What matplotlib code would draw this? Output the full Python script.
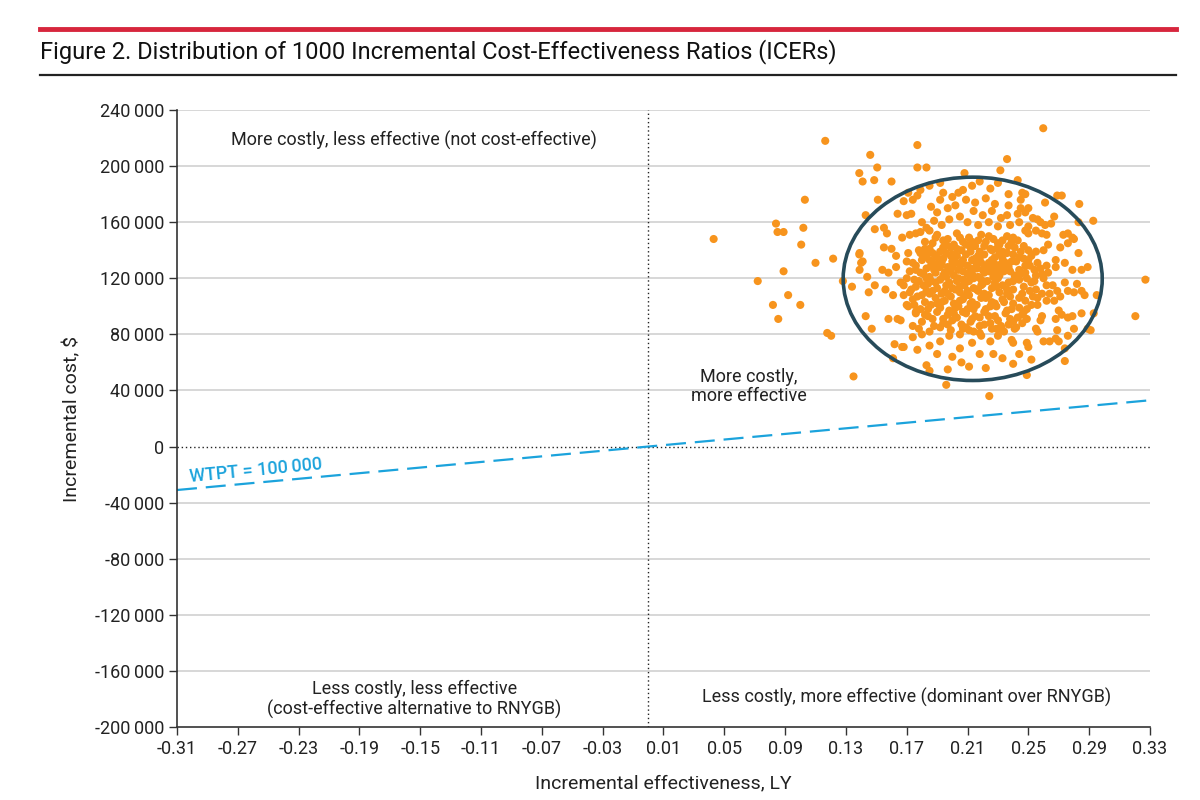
import matplotlib
matplotlib.use("Agg")
import matplotlib.pyplot as plt
from matplotlib.patches import Ellipse
from matplotlib.lines import Line2D

plt.rcParams['font.family'] = ['Roboto', 'DejaVu Sans']

# ---- data (effectiveness in LY, cost in thousands of $) ----
outer_pts = [
    (0.043, 148), (0.072, 118), (0.082, 101), (0.084, 159), (0.085, 153), (0.089, 153),
    (0.0855, 91), (0.089, 125), (0.092, 108), (0.100, 101), (0.1006, 144), (0.102, 156),
    (0.103, 176), (0.110, 131), (0.1164, 218), (0.1177, 81), (0.1203, 79), (0.1216, 134),
    (0.135, 50), (0.1388, 195), (0.1388, 137), (0.141, 189), (0.143, 165), (0.146, 208),
    (0.1486, 190), (0.149, 155), (0.1506, 199), (0.151, 176), (0.155, 156), (0.157, 152),
    (0.160, 189), (0.177, 215), (0.177, 199), (0.183, 199), (0.208, 195), (0.2316, 197),
    (0.236, 205), (0.2598, 227), (0.269, 179), (0.272, 179), (0.2835, 173), (0.283, 160),
    (0.2927, 161), (0.295, 108), (0.291, 83), (0.3204, 93), (0.327, 119), (0.274, 61),
    (0.249, 51), (0.2243, 36), (0.196, 44), (0.143, 93), (0.147, 84), (0.161, 63),
    (0.168, 71), (0.162, 73), (0.128, 118), (0.134, 114), (0.140, 131), (0.145, 110),
]

upper_pts = [
    (0.168, 175), (0.174, 176), (0.171, 181), (0.177, 179), (0.179, 183), (0.185, 186),
    (0.192, 188), (0.194, 181), (0.192, 176), (0.200, 178), (0.204, 181), (0.207, 183),
    (0.213, 186), (0.218, 189), (0.225, 184), (0.230, 188), (0.237, 180), (0.243, 190),
    (0.245, 176), (0.246, 181), (0.248, 180), (0.261, 174), (0.237, 172), (0.245, 170),
    (0.250, 170), (0.236, 165), (0.243, 166), (0.248, 167), (0.253, 163), (0.256, 162),
    (0.258, 160), (0.261, 158), (0.265, 159), (0.267, 164), (0.164, 166), (0.170, 165),
    (0.173, 166), (0.180, 160), (0.183, 156), (0.186, 171), (0.190, 167), (0.197, 170),
    (0.202, 172), (0.209, 176), (0.215, 174), (0.222, 177), (0.228, 173), (0.214, 168),
    (0.220, 165), (0.226, 168), (0.232, 163), (0.198, 162), (0.205, 164), (0.210, 160),
    (0.193, 158), (0.188, 161), (0.217, 158), (0.224, 160), (0.230, 157), (0.238, 158),
    (0.244, 160), (0.250, 157), (0.248, 154), (0.250, 152), (0.255, 154), (0.259, 152),
    (0.262, 151), (0.273, 151), (0.276, 152), (0.279, 149), (0.271, 142), (0.276, 145),
    (0.280, 148), (0.283, 138), (0.263, 144), (0.260, 140), (0.255, 139), (0.268, 133),
    (0.274, 131), (0.279, 126), (0.285, 126), (0.289, 128), (0.268, 128), (0.167, 149),
    (0.172, 151), (0.176, 152), (0.179, 153), (0.185, 154), (0.155, 142), (0.160, 141),
    (0.163, 136), (0.171, 138), (0.179, 138), (0.182, 141), (0.139, 138), (0.141, 132),
    (0.139, 126), (0.144, 121), (0.154, 126), (0.158, 124), (0.163, 128), (0.170, 132),
    (0.176, 126), (0.149, 115), (0.156, 112), (0.161, 108), (0.166, 117),
]

core_pts = [
    (0.190, 151), (0.197, 148), (0.203, 152), (0.211, 149), (0.219, 151), (0.227, 148),
    (0.236, 150), (0.243, 147),
    (0.187, 145), (0.194, 147), (0.201, 144), (0.207, 146), (0.215, 143), (0.222, 146),
    (0.231, 144), (0.239, 146), (0.247, 143),
    (0.185, 141), (0.192, 139), (0.199, 142), (0.206, 140), (0.212, 142), (0.218, 139),
    (0.225, 141), (0.233, 139), (0.241, 142), (0.250, 140),
    (0.183, 137), (0.190, 135), (0.196, 138), (0.203, 136), (0.209, 137), (0.215, 134),
    (0.221, 137), (0.228, 135), (0.236, 138), (0.244, 135), (0.252, 136),
    (0.180, 133), (0.187, 131), (0.194, 134), (0.200, 132), (0.206, 130), (0.213, 133),
    (0.219, 131), (0.226, 133), (0.232, 130), (0.239, 132), (0.247, 134), (0.256, 131),
    (0.262, 129),
    (0.176, 129), (0.183, 127), (0.190, 130), (0.197, 128), (0.204, 126), (0.210, 129),
    (0.216, 127), (0.223, 129), (0.230, 126), (0.237, 128), (0.244, 126), (0.251, 129),
    (0.258, 127),
    (0.172, 125), (0.181, 123), (0.188, 126), (0.195, 124), (0.201, 122), (0.207, 125),
    (0.213, 123), (0.220, 126), (0.227, 123), (0.234, 125), (0.241, 122), (0.248, 124),
    (0.255, 122), (0.263, 124),
    (0.170, 120), (0.178, 118), (0.185, 121), (0.192, 119), (0.198, 117), (0.204, 120),
    (0.211, 118), (0.217, 121), (0.223, 118), (0.230, 120), (0.237, 117), (0.244, 119),
    (0.252, 117), (0.260, 120),
    (0.168, 115), (0.176, 114), (0.184, 116), (0.190, 113), (0.196, 115), (0.202, 112),
    (0.208, 115), (0.214, 113), (0.220, 116), (0.226, 113), (0.233, 115), (0.240, 112),
    (0.247, 114), (0.255, 112), (0.262, 115),
    (0.172, 110), (0.180, 108), (0.187, 111), (0.193, 109), (0.199, 107), (0.205, 110),
    (0.211, 108), (0.217, 111), (0.224, 108), (0.231, 110), (0.238, 107), (0.246, 109),
    (0.253, 107),
    (0.174, 105), (0.182, 103), (0.189, 106), (0.195, 104), (0.201, 102), (0.207, 105),
    (0.213, 103), (0.219, 106), (0.226, 103), (0.233, 105), (0.240, 102), (0.248, 104),
    (0.256, 106),
    (0.171, 100), (0.179, 98), (0.186, 101), (0.192, 99), (0.198, 97), (0.204, 100),
    (0.210, 98), (0.216, 101), (0.222, 98), (0.229, 100), (0.236, 97), (0.244, 99),
    (0.252, 101),
    (0.176, 95), (0.184, 93), (0.190, 96), (0.197, 94), (0.203, 92), (0.209, 95),
    (0.215, 93), (0.221, 96), (0.228, 93), (0.235, 95), (0.243, 92),
    (0.180, 89), (0.187, 91), (0.194, 88), (0.200, 90), (0.206, 87), (0.212, 89),
    (0.218, 86), (0.225, 88), (0.232, 86), (0.240, 89), (0.249, 91),
    (0.178, 84), (0.185, 82), (0.192, 85), (0.199, 83), (0.205, 80), (0.211, 83),
    (0.218, 81), (0.226, 84), (0.234, 82), (0.242, 85),
]

fill_pts = [
    (0.200, 128), (0.207, 133), (0.214, 120), (0.221, 124), (0.228, 117), (0.210, 111),
    (0.203, 118), (0.217, 136), (0.224, 131), (0.196, 121), (0.189, 124), (0.231, 122),
    (0.235, 131), (0.226, 140), (0.209, 144), (0.199, 136), (0.193, 131), (0.186, 118),
    (0.205, 104), (0.214, 98), (0.221, 109), (0.228, 102), (0.236, 112), (0.243, 121),
    (0.240, 137), (0.248, 129), (0.254, 118), (0.197, 109), (0.190, 102), (0.183, 111),
    (0.218, 92), (0.207, 96), (0.230, 90), (0.200, 113), (0.212, 127), (0.219, 115),
    (0.226, 127), (0.233, 134), (0.194, 142), (0.217, 147), (0.230, 145), (0.189, 136),
    (0.182, 146), (0.189, 149), (0.205, 149), (0.213, 146), (0.224, 150), (0.233, 147),
    (0.240, 149), (0.178, 140), (0.196, 144), (0.203, 141), (0.221, 143), (0.229, 141),
    (0.237, 143), (0.245, 139), (0.181, 135), (0.187, 138), (0.200, 137), (0.212, 139),
    (0.218, 134), (0.231, 137), (0.242, 132), (0.250, 133), (0.174, 131), (0.185, 133),
    (0.192, 128), (0.203, 131), (0.216, 130), (0.228, 130), (0.238, 125), (0.254, 126),
    (0.179, 124), (0.186, 129), (0.199, 125), (0.210, 123), (0.224, 125), (0.232, 128),
    (0.245, 123), (0.259, 123), (0.175, 119), (0.183, 120), (0.194, 122), (0.207, 119),
    (0.219, 119), (0.227, 121), (0.240, 118), (0.249, 120), (0.173, 112), (0.181, 115),
    (0.189, 117), (0.205, 114), (0.216, 112), (0.229, 114), (0.236, 109), (0.251, 111),
    (0.177, 107), (0.185, 109), (0.195, 111), (0.208, 107), (0.222, 106), (0.234, 103),
    (0.244, 106), (0.259, 109), (0.175, 101), (0.184, 98), (0.193, 103), (0.202, 99),
    (0.212, 102), (0.225, 100), (0.239, 98), (0.247, 96), (0.182, 94), (0.194, 91),
    (0.201, 95), (0.213, 91), (0.224, 93), (0.238, 91), (0.246, 94), (0.188, 86),
    (0.197, 87), (0.209, 85), (0.221, 87), (0.229, 84), (0.237, 87),
]

lower_pts = [
    (0.158, 91), (0.164, 91), (0.166, 90), (0.174, 86), (0.174, 78), (0.167, 71),
    (0.177, 69), (0.183, 58), (0.185, 54), (0.197, 55), (0.211, 57), (0.222, 56),
    (0.206, 60), (0.200, 64), (0.190, 66), (0.185, 72), (0.192, 75), (0.198, 79),
    (0.205, 70), (0.213, 74), (0.218, 66), (0.227, 66), (0.233, 63), (0.240, 59),
    (0.230, 79), (0.233, 83), (0.225, 75), (0.239, 76), (0.240, 74), (0.249, 74),
    (0.250, 71), (0.260, 75), (0.264, 75), (0.268, 77), (0.270, 75), (0.276, 79),
    (0.274, 70), (0.269, 83), (0.280, 84), (0.289, 84), (0.255, 84), (0.256, 82),
    (0.259, 93), (0.258, 90), (0.270, 97), (0.272, 94), (0.276, 92), (0.268, 91),
    (0.279, 93), (0.285, 95), (0.293, 95), (0.266, 115), (0.269, 111), (0.271, 107),
    (0.267, 104), (0.264, 109), (0.274, 117), (0.282, 116), (0.285, 111), (0.287, 108),
    (0.276, 111), (0.280, 110), (0.249, 98), (0.256, 101), (0.262, 104), (0.246, 88),
    (0.241, 84), (0.214, 82), (0.207, 84), (0.219, 79), (0.180, 80), (0.176, 96),
    (0.170, 101), (0.168, 108), (0.244, 66), (0.252, 62),
]

# confidence ellipse: centre (LY, $), width (LY), height ($)
ell_center = (0.2134, 119600)
ell_width = 0.1704
ell_height = 145000

wtp = 100000  # willingness-to-pay threshold, $/LY

x_ticks = [-0.31, -0.27, -0.23, -0.19, -0.15, -0.11, -0.07, -0.03,
           0.01, 0.05, 0.09, 0.13, 0.17, 0.21, 0.25, 0.29, 0.33]
y_ticks = [240000, 200000, 160000, 120000, 80000, 40000, 0,
           -40000, -80000, -120000, -160000, -200000]

# ---- figure ----
orange = '#f7941d'
blue = '#1ba3dc'

fig = plt.figure(figsize=(12, 8), dpi=100)
ax = fig.add_axes([0.1475, 0.09125, 0.8108, 0.77125])

# header lines and title
fig.add_artist(Line2D([40 / 1200, 1176 / 1200], [1 - 29 / 800] * 2,
                      color='#d7263d', lw=3.5))
fig.add_artist(Line2D([40 / 1200, 1176 / 1200], [1 - 75 / 800] * 2,
                      color='#222222', lw=1.6))
fig.text(40 / 1200, 1 - 52 / 800,
         'Figure 2. Distribution of 1000 Incremental Cost-Effectiveness Ratios (ICERs)',
         fontsize=17, color='#111111', va='center', ha='left')

for y in y_ticks[:-1]:
    if y != 0:
        ax.axhline(y, color='#d4d4d4', lw=1.3, zorder=0)
ax.axhline(0, color='#222222', lw=1, ls=(0, (1, 2)), zorder=1)
ax.axvline(0, color='#222222', lw=1, ls=(0, (1, 2)), zorder=1)

all_pts = outer_pts + upper_pts + core_pts + fill_pts + lower_pts
xs = [p[0] for p in all_pts]
ys = [p[1] * 1000 for p in all_pts]
ax.scatter(xs, ys, s=34, color=orange, edgecolors='none', zorder=3)

ax.add_patch(Ellipse(ell_center, ell_width, ell_height, fill=False,
                     edgecolor='#274b5a', lw=2.6, zorder=4))

line_x = [-0.31, 0.33]
ax.plot(line_x, [wtp * v for v in line_x], color=blue, lw=1.6,
        dashes=(9, 4), zorder=2)
ax.text(-0.3015, -25500, 'WTPT = 100\u2009000', color=blue, fontsize=13,
        fontweight='medium', rotation=5.5, rotation_mode='anchor',
        ha='left', va='baseline')

ax.text(-0.154, 218000, 'More costly, less effective (not cost-effective)',
        ha='center', va='center', fontsize=13, color='#222222')
ax.text(0.066, 43000, 'More costly,\nmore effective', ha='center', va='center',
        fontsize=13, color='#222222', linespacing=1.1)
ax.text(-0.154, -180500, 'Less costly, less effective\n(cost-effective alternative to RNYGB)',
        ha='center', va='center', fontsize=13, color='#222222', linespacing=1.1)
ax.text(0.17, -179000, 'Less costly, more effective (dominant over RNYGB)',
        ha='center', va='center', fontsize=13, color='#222222')

ax.set_xlim(-0.31, 0.33)
ax.set_ylim(-200000, 240000)
ax.set_xticks(x_ticks)
ax.set_xticklabels(['%.2f' % v for v in x_ticks])
ax.set_yticks(y_ticks)
ax.set_yticklabels([('%d' % v)[:-3] + '\u2009' + '000' if v != 0 else '0'
                    for v in y_ticks])
ax.tick_params(axis='both', labelsize=13, length=6, width=1, color='#333333',
               labelcolor='#222222', pad=3)

for side in ['top', 'right']:
    ax.spines[side].set_visible(False)
for side in ['left', 'bottom']:
    ax.spines[side].set_color('#333333')
    ax.spines[side].set_linewidth(1.2)

ax.set_xlabel('Incremental effectiveness, LY', fontsize=14, color='#222222', labelpad=12)
ax.set_ylabel('Incremental cost, $', fontsize=14, color='#222222', labelpad=10)

fig.savefig('out.png', dpi=100)
